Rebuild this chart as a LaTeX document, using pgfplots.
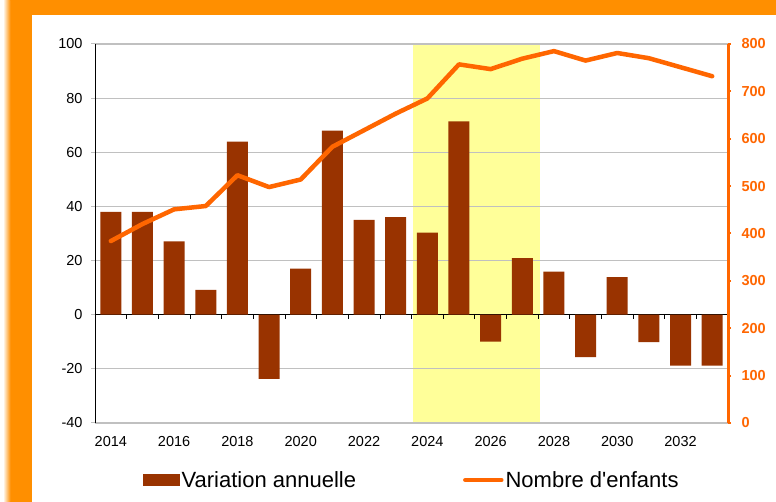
\documentclass[border=0pt]{standalone}
\usepackage{pgfplots}
\pgfplotsset{compat=1.18}
\usepackage{fontspec}
\setmainfont{Liberation Sans}
\definecolor{frameO}{RGB}{255,143,0}
\definecolor{lineO}{RGB}{255,102,0}
\definecolor{barc}{RGB}{153,51,0}
\definecolor{yell}{RGB}{255,255,153}
\definecolor{gridc}{RGB}{192,192,192}
\begin{document}
\begin{tikzpicture}[x=1pt,y=1pt]
\useasboundingbox (0,0) rectangle (776,502);
\fill[white] (0,0) rectangle (776,502);
\fill[frameO] (10,0) rectangle (32,502);
\fill[frameO] (10,487) rectangle (776,502);
\shade[left color=white, right color=frameO] (3,0) rectangle (10.5,502);
\pgfplotsset{common/.style={scale only axis, width=633pt, height=379pt,
  at={(95pt,79pt)}, anchor=south west, xmin=2013.5, xmax=2033.5,
  /pgf/number format/assume math mode=true, /pgf/number format/1000 sep={},
  tick label style={font=\fontsize{14.5}{16}\selectfont}}}
% layer 1: highlight and year labels
\begin{axis}[common, ymin=-40, ymax=100, axis y line=none, axis x line*=bottom,
  x axis line style={draw=none}, xtick={2014,2016,...,2032}, major tick length=0pt,
  xticklabel style={yshift=-10pt}]
\fill[yell] (axis cs:2023.55,-40) rectangle (axis cs:2027.55,100);
\end{axis}
% layer 2: bars
\begin{axis}[common, ymin=-40, ymax=100, ytick={-40,-20,...,100},
  axis y line*=left, axis x line*=middle,
  xtick={2013.5,2014.5,...,2033.5}, xticklabels={},
  ymajorgrids, grid style={gridc, line width=1.2pt},
  tick align=outside, major tick length=4pt,
  yticklabel style={xshift=-5pt},
  x tick style={black, line width=0.6pt}, y tick style={gridc, line width=1pt},
  x axis line style={black, line width=1pt}, y axis line style={black, line width=1pt}]
\addplot[ybar, bar width=21pt, fill=barc, draw=none] coordinates {
(2014,38.0) (2015,38.0) (2016,27.1) (2017,9.2) (2018,63.9) (2019,-23.7)
(2020,17.0) (2021,68.0) (2022,35.0) (2023,36.0) (2024,30.3) (2025,71.4)
(2026,-9.9) (2027,20.9) (2028,15.9) (2029,-15.7) (2030,13.9) (2031,-10.1)
(2032,-18.8) (2033,-18.8)};
\end{axis}
% layer 3: line, right axis, legend
\begin{axis}[common, ymin=0, ymax=800, ytick={0,100,...,800},
  axis y line*=right, axis x line=none,
  y axis line style={lineO, line width=3pt}, y tick style={lineO, line width=2pt},
  tick align=outside, major tick length=3pt,
  yticklabel style={lineO, xshift=7pt, font=\fontsize{14.5}{16}\selectfont\bfseries},
  legend columns=2,
  legend style={at={(0.0758,-0.1504)}, anchor=west, draw=none, fill=none, inner sep=0pt,
    font=\fontsize{22}{26}\selectfont, nodes={inner xsep=2pt, inner ysep=1pt},
    /tikz/every even column/.append style={column sep=105pt}}]
\addlegendimage{legend image code/.code={\fill[barc] (0pt,-5.5pt) rectangle (36pt,5.5pt);}}
\addlegendentry{Variation annuelle}
\addplot[lineO, line width=4.5pt, line join=round, line cap=round,
  legend image code/.code={\draw[lineO, line width=4.5pt, line cap=round] (1pt,0pt) -- (37pt,0pt);}]
 coordinates {
(2014,384) (2015,420) (2016,451) (2017,458) (2018,523) (2019,498)
(2020,514) (2021,583) (2022,618) (2023,653) (2024,685) (2025,757)
(2026,747) (2027,769) (2028,785) (2029,765) (2030,781) (2031,770)
(2032,751) (2033,732)};
\addlegendentry{Nombre d\textquotesingle enfants}
\end{axis}
\end{tikzpicture}
\end{document}
